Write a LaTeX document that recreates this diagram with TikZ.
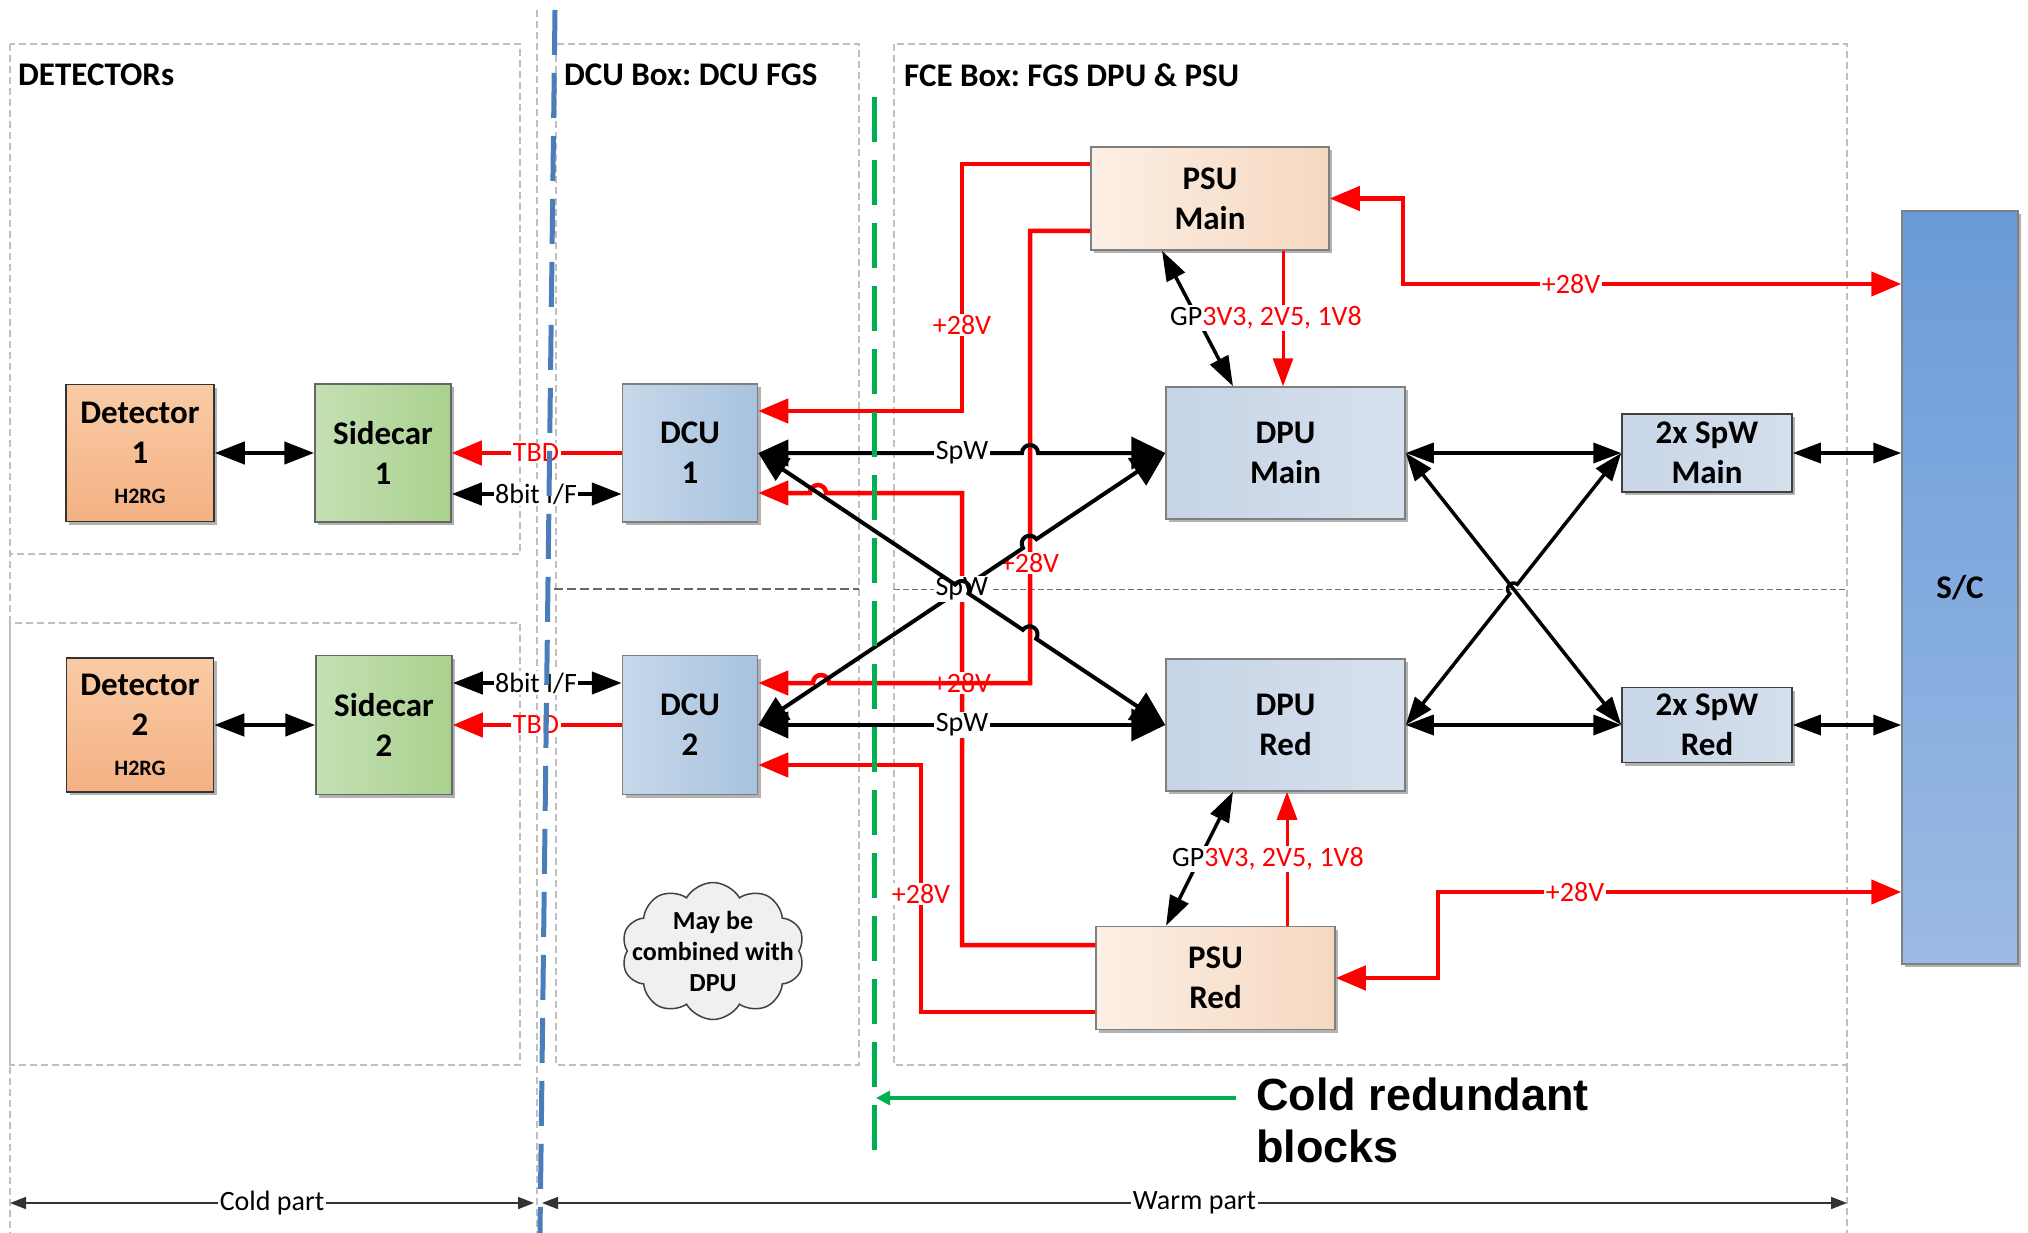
\documentclass[tikz,border=0pt]{standalone}
\usepackage{fontspec}
\setmainfont{Carlito}
\newfontfamily\arialfont{Liberation Sans}
\usetikzlibrary{arrows.meta,shapes.symbols,shadows,calc}
\definecolor{cred}{HTML}{FF0000}
\definecolor{cgreen}{HTML}{00B050}
\definecolor{cblue}{HTML}{4A7EBB}
\definecolor{detA}{HTML}{F9CBA5}
\definecolor{detB}{HTML}{F4B183}
\definecolor{scA}{HTML}{C5E0B4}
\definecolor{scB}{HTML}{A9D18E}
\definecolor{dcuA}{HTML}{C7D8EA}
\definecolor{dcuB}{HTML}{A8C3DE}
\definecolor{dpuA}{HTML}{C6D4E6}
\definecolor{dpuB}{HTML}{D7E1ED}
\definecolor{psuA}{HTML}{FCEFE5}
\definecolor{psuB}{HTML}{F6D8C0}
\definecolor{spwA}{HTML}{C8D6E8}
\definecolor{spwB}{HTML}{D5DFEC}
\definecolor{scTop}{HTML}{6A9BD8}
\definecolor{scBot}{HTML}{9BBAE4}
\definecolor{bord}{HTML}{7F7F7F}
\definecolor{gline}{HTML}{BFBFBF}
\newcommand\boxfont{\fontsize{33}{40}\selectfont\bfseries}
\newcommand\lblfont{\fontsize{28}{32}\selectfont}
\newcommand\hdrfont{\fontsize{33}{38}\selectfont\bfseries}
\frenchspacing
\begin{document}
\begin{tikzpicture}[x=1pt,y=-1pt,
 gbox/.style={draw=gline, line width=1.3pt, dash pattern=on 7pt off 4pt},
 hdr/.style={anchor=west, font=\hdrfont, inner sep=0pt},
 blkbase/.style={line width=1.5pt, inner sep=0pt, align=center, font=\boxfont, drop shadow={shadow xshift=3pt, shadow yshift=-3pt, opacity=0.3, fill=black}},
 detbox/.style={blkbase, draw=black!80, top color=detA, bottom color=detB},
 scbox/.style={blkbase, draw=black!60, left color=scA, right color=scB},
 dcubox/.style={blkbase, draw=bord, left color=dcuA, right color=dcuB},
 dpubox/.style={blkbase, draw=bord, left color=dpuA, right color=dpuB},
 psubox/.style={blkbase, draw=bord, left color=psuA, right color=psuB},
 spwbox/.style={blkbase, draw=black!75, left color=spwA, right color=spwB},
 scsbox/.style={blkbase, draw=black!50, top color=scTop, bottom color=scBot},
 lab/.style={fill=white, inner sep=1.5pt, font=\lblfont},
 rlab/.style={lab, text=cred},
 rline/.style={draw=cred, line width=4.5pt, -{Triangle[length=30pt,width=24pt]}},
 rlinetwo/.style={draw=cred, line width=4.5pt, {Triangle[length=30pt,width=24pt]}-{Triangle[length=30pt,width=24pt]}},
 rthin/.style={draw=cred, line width=3pt, -{Triangle[length=28pt,width=20pt]}},
 spwline/.style={draw=black, line width=4pt, {Triangle[length=30pt,width=26pt]}-{Triangle[length=34pt,width=32pt]}},
 xline/.style={draw=black, line width=3.5pt, {Triangle[length=28pt,width=20pt]}-{Triangle[length=28pt,width=20pt]}},
 gpline/.style={draw=black, line width=3.5pt, {Triangle[length=30pt,width=20pt]}-{Triangle[length=30pt,width=20pt]}},
 detline/.style={draw=black, line width=4.5pt, {Triangle[length=30pt,width=22pt]}-{Triangle[length=30pt,width=22pt]}},
 dimline/.style={draw=black!80, line width=1.6pt, {Triangle[length=16pt,width=12pt]}-{Triangle[length=16pt,width=12pt]}},
 garrow/.style={draw=cgreen, line width=4pt, -{Triangle[length=14pt,width=14pt]}},
]
\path[fill=white] (0,0) rectangle (2028,1233);
\useasboundingbox (0,0) rectangle (2028,1233);

% dashed frames
\draw[gbox] (10,44) rectangle (520,554);
\draw[gbox] (10,623) rectangle (520,1065);
\draw[gbox] (10,44) -- (10,1233);
\draw[gbox] (556,44) rectangle (859,1065);
\draw[gbox] (894,44) rectangle (1847,1065);
\draw[gbox] (1847,1065) -- (1847,1233);
\draw[gbox] (537,10) -- (537,1233);
\draw[draw=black!60, line width=1.3pt, dash pattern=on 9pt off 4pt] (554,589) -- (859,589);
\draw[draw=black!55, line width=1pt, dash pattern=on 6pt off 3pt] (894,589) -- (1847,589);

% headers
\node[hdr] (h1) at (18,75) {DETECTORs};
\node[hdr] (h2) at (564,75) {DCU Box: DCU FGS};
\node[hdr] (h3) at (904,75) {FCE Box: FGS DPU \& PSU};

% boxes
\node[detbox, minimum width=148pt, minimum height=137pt] (det1) at (140,453) {Detector\\1\\{\fontsize{22}{28}\selectfont H2RG}};
\node[scbox, minimum width=136pt, minimum height=138pt] (sc1) at (383,453) {Sidecar\\1};
\node[dcubox, minimum width=135pt, minimum height=138pt] (dcu1) at (690,453) {DCU\\1};
\node[detbox, minimum width=147pt, minimum height=134pt] (det2) at (140,725) {Detector\\2\\{\fontsize{22}{28}\selectfont H2RG}};
\node[scbox, minimum width=136pt, minimum height=139pt] (sc2) at (384,725) {Sidecar\\2};
\node[dcubox, minimum width=135pt, minimum height=139pt] (dcu2) at (690,725) {DCU\\2};
\node[psubox, minimum width=238pt, minimum height=103pt] (psum) at (1210,198.5) {PSU\\Main};
\node[dpubox, minimum width=239pt, minimum height=132pt] (dpum) at (1285.5,453) {DPU\\Main};
\node[spwbox, minimum width=170pt, minimum height=78pt] (spwm) at (1707,453) {2x SpW\\Main};
\node[dpubox, minimum width=239pt, minimum height=132pt] (dpur) at (1285.5,725) {DPU\\Red};
\node[spwbox, minimum width=170pt, minimum height=75pt] (spwr) at (1707,725) {2x SpW\\Red};
\node[psubox, minimum width=239pt, minimum height=103pt] (psur) at (1215.5,978) {PSU\\Red};
\node[scsbox, minimum width=116pt, minimum height=753pt] (sc) at (1960,587.5) {S/C};

% cloud
\node[cloud, cloud puffs=10, cloud puff arc=120, cloud ignores aspect, draw=black!75, line width=1.5pt, fill=black!6, minimum width=183pt, minimum height=137pt, inner sep=0pt] (cloud) at (713,951) {};
\node[font=\fontsize{26}{31}\selectfont\bfseries, align=center, inner sep=0pt] (cloudtxt) at (cloud.center) {May be\\combined with\\DPU};

% detector side links
\draw[detline] (det1.east) -- (sc1.west);
\draw[detline] (det2.east) -- (sc2.west);
\draw[rline] (dcu1.west) -- (sc1.east);
\node[rlab] (tbd1) at (536,453) {TBD};
\draw[detline] ([yshift=-41pt]sc1.east) -- ([yshift=-41pt]dcu1.west);
\node[lab] (if1) at (536,494) {8bit I/F};
\draw[rline] (dcu2.west) -- (sc2.east);
\node[rlab] (tbd2) at (536,725) {TBD};
\draw[detline] ([yshift=42pt]sc2.east) -- ([yshift=42pt]dcu2.west);
\node[lab] (if2) at (536,683) {8bit I/F};

% power lines to DCUs
\draw[rline] ([yshift=33pt]psur.west) -- (962,945) -- (962,493) -- (826,493) arc[start angle=0,end angle=-180,radius=8] -- ([yshift=-40pt]dcu1.east);
\node[rlab] (p3) at (962,683) {+28V};
\draw[rline] ([yshift=34.5pt]psum.west) -- (962,164) -- (962,411) -- ([yshift=42pt]dcu1.east);
\node[rlab] (p1) at (962,325) {+28V};
\draw[rline] ([yshift=-32.5pt]psum.west) -- (1030,231) -- (1030,683) -- (829,683) arc[start angle=0,end angle=-180,radius=8] -- ([yshift=42pt]dcu2.east);
\node[rlab] (p2) at (1030,563) {+28V};
\draw[rline] ([yshift=-34pt]psur.west) -- (921,1012) -- (921,765) -- ([yshift=-40pt]dcu2.east);
\node[rlab] (p4) at (921,894) {+28V};

% power from S/C
\draw[rlinetwo] (psum.east) -- (1403,198.5) -- (1403,284) -- ([yshift=303.5pt]sc.west);
\node[rlab] (p5) at (1571,284) {+28V};
\draw[rlinetwo] (psur.east) -- (1438,978) -- (1438,892) -- ([yshift=-304.5pt]sc.west);
\node[rlab] (p6) at (1575,892) {+28V};

% GP and secondary voltages
\draw[gpline] ([xshift=-48pt]psum.south) -- ([xshift=-52.5pt]dpum.north);
\draw[rthin] ([xshift=73pt]psum.south) -- ([xshift=-2.5pt]dpum.north);
\node[lab] (gp1) at (1266,318) {GP\textcolor{cred}{3V3, 2V5, 1V8}};
\draw[gpline] ([xshift=-49.5pt]psur.north) -- ([xshift=-52.5pt]dpur.south);
\draw[rthin] ([xshift=71.5pt]psur.north) -- ([xshift=1.5pt]dpur.south);
\node[lab] (gp2) at (1268,859) {GP\textcolor{cred}{3V3, 2V5, 1V8}};

% SpW links DCU - DPU
\draw[spwline] (dcu1.east) -- (1022,453) arc[start angle=180,end angle=360,radius=8] -- (dpum.west);
\node[lab] (s1) at (962,453) {SpW};
\draw[spwline] (dcu2.east) -- (dpur.west);
\node[lab] (s2) at (962,725) {SpW};
\draw[spwline] (dcu2.east) -- ($(dcu2.east)!0.6669!(dpum.west)!8pt!(dcu2.east)$) arc[start angle=146.4,end angle=326.4,radius=8] -- (dpum.west);
\node[lab] (s3) at ($(dcu2.east)!0.5!(dpum.west)$) {SpW};
\draw[spwline] (dcu1.east) -- ($(dcu1.east)!0.5!(dpur.west)!8pt!(dcu1.east)$) arc[start angle=213.7,end angle=393.7,radius=8] -- ($(dcu1.east)!0.6667!(dpur.west)!8pt!(dcu1.east)$) arc[start angle=213.7,end angle=393.7,radius=8] -- (dpur.west);

% DPU - SpW - S/C
\draw[xline] (dpum.east) -- (spwm.west);
\draw[xline] (dpur.east) -- (spwr.west);
\draw[xline] (dpum.east) -- (spwr.west);
\draw[xline] (dpur.east) -- ($(dpur.east)!0.5!(spwm.west)!6pt!(dpur.east)$) arc[start angle=128.6,end angle=308.6,radius=6] -- (spwm.west);
\draw[xline] (spwm.east) -- ([yshift=134.5pt]sc.west);
\draw[xline] (spwr.east) -- ([yshift=-137.5pt]sc.west);

% cold / warm separators
\coordinate (bt) at (555,10);
\coordinate (bb) at (540,1233);
\draw[draw=cblue, line width=5pt, dash pattern=on 45pt off 18pt] (bt) -- (bb);
\coordinate (gt) at (874,97);
\coordinate (gb) at (874,1155);
\draw[draw=cgreen, line width=5pt, dash pattern=on 45pt off 18pt] (gt) -- (gb);

% cold redundant note
\node[anchor=west, inner sep=0pt, font=\arialfont\fontsize{45}{52}\selectfont\bfseries] (cr1) at (1256,1094) {Cold redundant};
\node[anchor=west, inner sep=0pt, font=\arialfont\fontsize{45}{52}\selectfont\bfseries] (cr2) at (1256,1146) {blocks};
\coordinate (gtip) at (876,1098);
\draw[garrow] ([xshift=-20pt,yshift=-4pt]cr1.west) -- (gtip);

% cold / warm part
\coordinate (cpl) at (10,1203);
\coordinate (cpr) at (534,1203);
\draw[dimline] (cpl) -- node[lab, font=\fontsize{28}{32}\selectfont] (cpt) {Cold part} (cpr);
\coordinate (wpl) at (542,1203);
\coordinate (wpr) at (1847,1203);
\draw[dimline] (wpl) -- node[lab, font=\fontsize{28}{32}\selectfont] (wpt) {Warm part} (wpr);
\end{tikzpicture}
\end{document}
